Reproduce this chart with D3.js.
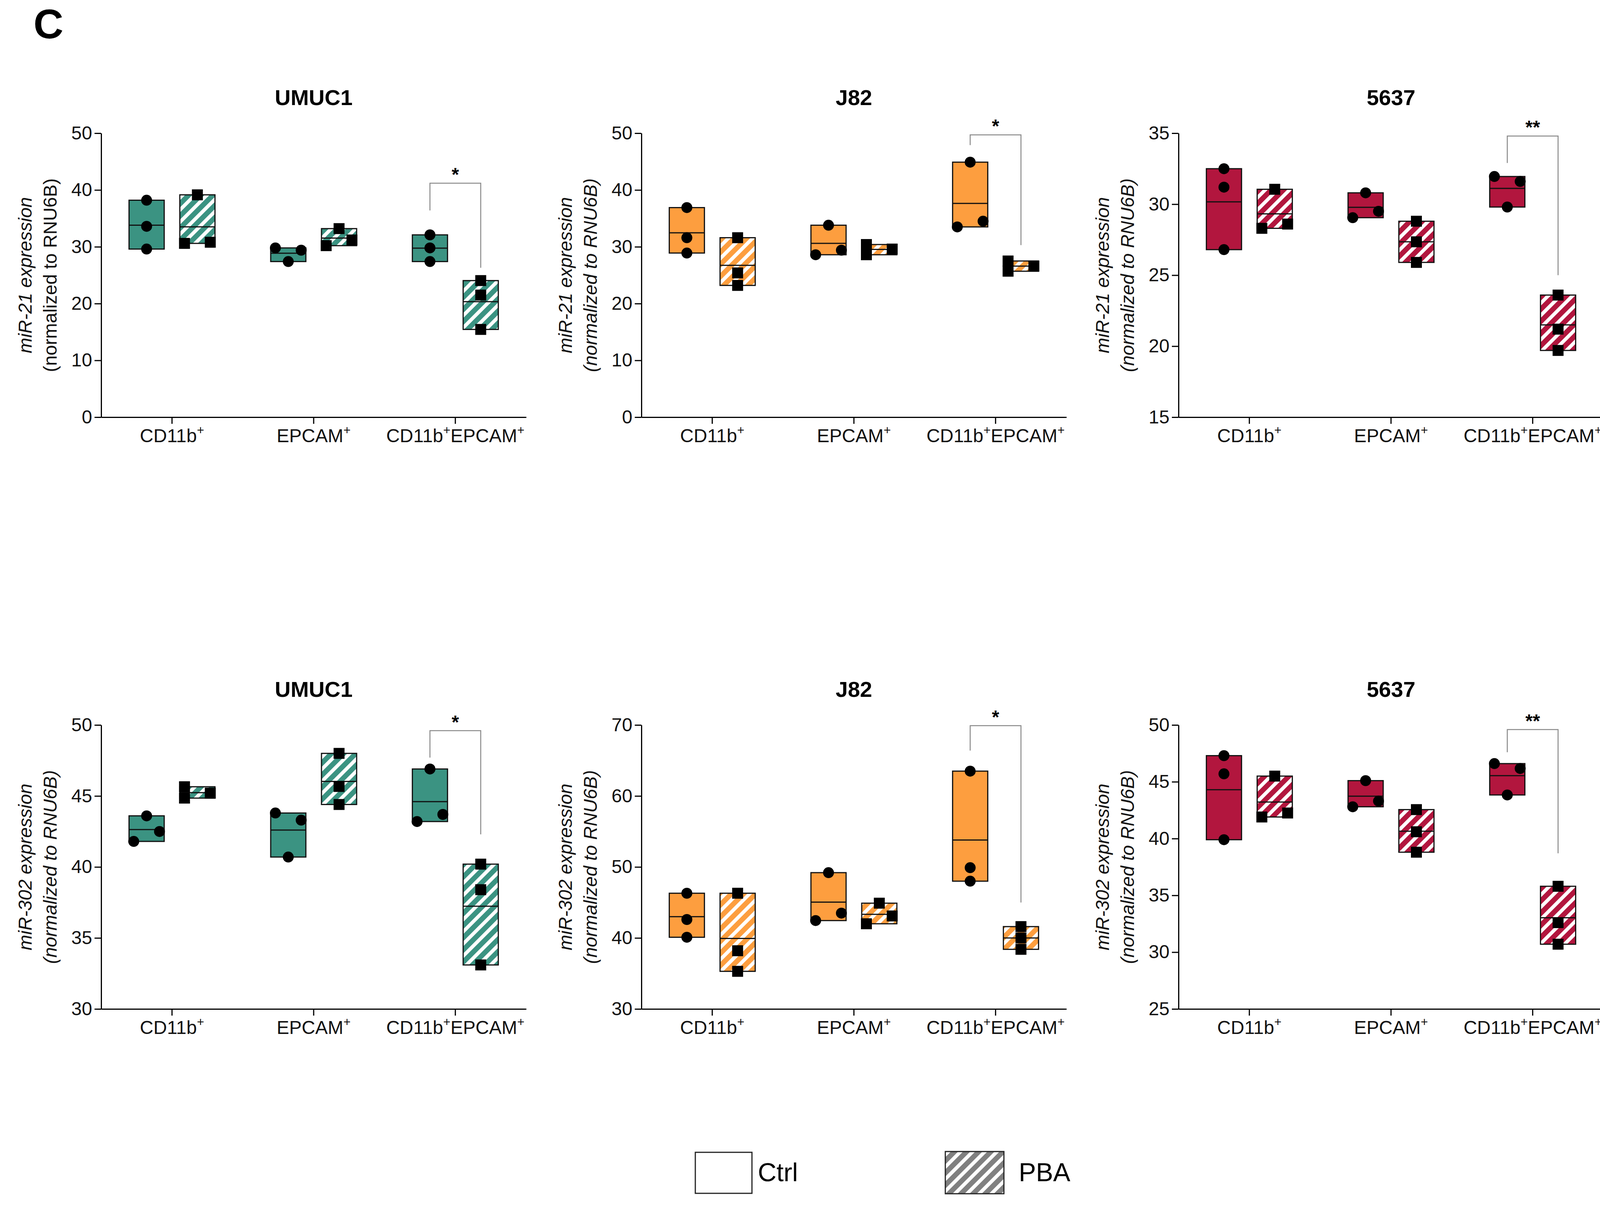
<!DOCTYPE html>
<html>
<head>
<meta charset="utf-8">
<script src="https://cdn.jsdelivr.net/npm/d3@7"></script>
<style>
  body { margin: 0; background: #fff; }
  svg { display: block; font-family: "Liberation Sans", Arial, sans-serif; }
</style>
</head>
<body>
<svg id="chart" width="4129" height="3090"></svg>
<script>
const cellLines = ["UMUC1", "J82", "5637"];
const lineColors = ["#3b9382", "#fd9e3f", "#b2163e"];
const populations = ["CD11b+", "EPCAM+", "CD11b+EPCAM+"];
const treatments = ["Ctrl", "PBA"];
const mirnas = ["miR-21", "miR-302"];

// replicates per population: [Ctrl, PBA], kept in table order
const umuc1Mir21 = [[[38.2, 33.6, 29.6], [39.15, 30.6, 30.8]],
                    [[29.8, 29.4, 27.4], [33.2, 30.2, 31.2]],
                    [[32.1, 29.8, 27.4], [24.05, 21.5, 15.45]]];
const j82Mir21 = [[[36.9, 31.6, 28.9], [31.6, 25.4, 23.2]],
                  [[33.8, 28.6, 29.4], [30.4, 29.6, 28.6]],
                  [[44.9, 33.5, 34.5], [27.5, 26.6, 25.7]]];
const c5637Mir21 = [[[32.5, 31.2, 26.8], [31.05, 28.3, 28.6]],
                    [[30.8, 29.05, 29.5], [28.8, 27.35, 25.9]],
                    [[31.95, 31.6, 29.8], [23.6, 21.2, 19.7]]];
const umuc1Mir302 = [[[43.6, 41.8, 42.5], [45.65, 45.2, 44.85]],
                     [[43.8, 43.3, 40.7], [48.0, 45.67, 44.4]],
                     [[46.9, 43.2, 43.7], [40.2, 38.4, 33.1]]];
const j82Mir302 = [[[46.3, 42.6, 40.1], [46.3, 38.2, 35.3]],
                   [[49.2, 42.45, 43.5], [44.9, 42.0, 43.1]],
                   [[63.5, 49.9, 48.0], [41.6, 40.0, 38.4]]];
const c5637Mir302 = [[[47.3, 45.7, 39.9], [45.5, 41.9, 42.25]],
                     [[45.1, 42.8, 43.3], [42.55, 40.6, 38.8]],
                     [[46.6, 46.17, 43.84], [35.8, 32.6, 30.7]]];

const yDomains21 = [[0, 50], [0, 50], [15, 35]];
const yTicks21 = [[0, 10, 20, 30, 40, 50], [0, 10, 20, 30, 40, 50], [15, 20, 25, 30, 35]];
const yDomains302 = [[30, 50], [30, 70], [25, 50]];
const yTicks302 = [[30, 35, 40, 45, 50], [30, 40, 50, 60, 70], [25, 30, 35, 40, 45, 50]];

// significance bracket: [top, ctrl end, pba end] in data units
const sigLabels21 = ["*", "*", "**"];
const brackets21 = [[41.2, 36.4, 26.3], [49.7, 47.9, 30.3], [34.8, 32.9, 25.0]];
const sigLabels302 = ["*", "*", "**"];
const brackets302 = [[49.6, 47.7, 42.3], [69.9, 66.4, 45.0], [49.6, 47.6, 38.7]];
const normItalic21 = [false, true, true];
const normItalic302 = [true, true, true];

const svg = d3.select("#chart");
svg.append("rect").attr("width", 4129).attr("height", 3090).attr("fill", "#fff");
const defs = svg.append("defs");

function hatch(id, color) {
    const p = defs.append("pattern").attr("id", id)
        .attr("patternUnits", "userSpaceOnUse")
        .attr("width", 22).attr("height", 22)
        .attr("patternTransform", "rotate(45)");
    p.append("rect").attr("width", 22).attr("height", 22).attr("fill", "#fff");
    p.append("rect").attr("width", 13).attr("height", 22).attr("fill", color);
}
lineColors.forEach((c, i) => hatch("hatch" + i, c));
hatch("hatchLegend", "#808080");

const panelX = [259, 1642, 3017];
const rowTop = [341, 1856];
const plotW = 1088, plotH = 727;
const boxW = 90, markerSize = 28, colStep = 33;

// spread points that would overlap vertically into side columns
function spread(vals, y) {
    const idx = d3.range(vals.length).sort((a, b) => vals[a] - vals[b]);
    const off = vals.map(() => 0);
    const clusters = [];
    let cur = [idx[0]];
    for (let k = 1; k < idx.length; k++) {
        if (Math.abs(y(vals[idx[k]]) - y(vals[idx[k - 1]])) < markerSize) cur.push(idx[k]);
        else { clusters.push(cur); cur = [idx[k]]; }
    }
    clusters.push(cur);
    clusters.forEach(c => {
        if (c.length < 2) return;
        c.slice().sort((a, b) => a - b).forEach((i, j) => { off[i] = (j % 2 ? 1 : -1) * colStep; });
    });
    return off;
}

function addCategoryLabel(sel, label) {
    const parts = label.split("+");
    parts.forEach((p, i) => {
        if (i === parts.length - 1) {
            if (p) sel.append("tspan").attr("dy", i ? 20 : 0).text(p);
            return;
        }
        sel.append("tspan").attr("dy", i ? 20 : 0).text(p);
        sel.append("tspan").attr("dy", -20).attr("font-size", 32).text("+");
    });
}

function drawPanel(col, row, data, domain, ticks, mirna, sig, bracket, normItalic) {
    const g = svg.append("g").attr("transform", `translate(${panelX[col]},${rowTop[row]})`);
    const x = d3.scaleBand().domain(populations).range([0, plotW]);
    const xt = d3.scalePoint().domain(treatments).range([-65, 65]);
    const y = d3.scaleLinear().domain(domain).range([plotH, 0]);
    const color = lineColors[col];

    // title
    g.append("text").attr("x", plotW / 2).attr("y", -72)
        .attr("text-anchor", "middle").attr("font-size", 56).attr("font-weight", "bold")
        .text(cellLines[col]);

    // y axis
    const ya = g.append("g")
        .call(d3.axisLeft(y).tickValues(ticks).tickSize(17).tickSizeOuter(0).tickPadding(6))
        .attr("font-family", "Liberation Sans, Arial, sans-serif").attr("font-size", 48);
    ya.select(".domain").attr("stroke-width", 3);
    ya.selectAll(".tick line").attr("stroke-width", 3);
    ya.selectAll(".tick text").attr("fill", "#111");

    // x axis
    const xa = g.append("g").attr("transform", `translate(0,${plotH})`)
        .call(d3.axisBottom(x).tickSize(17).tickSizeOuter(0).tickFormat(""));
    xa.select(".domain").attr("stroke-width", 3);
    xa.selectAll(".tick line").attr("stroke-width", 3);
    populations.forEach(p => {
        const t = g.append("text").attr("x", x(p) + x.bandwidth() / 2).attr("y", plotH + 64)
            .attr("text-anchor", "middle").attr("font-size", 48).attr("fill", "#111");
        addCategoryLabel(t, p);
    });

    // y label
    g.append("text").attr("transform", `translate(-178,${plotH / 2}) rotate(-90)`)
        .attr("text-anchor", "middle").attr("font-size", 48).attr("font-style", "italic")
        .attr("fill", "#111").text(mirna + " expression");
    g.append("text").attr("transform", `translate(-114,${plotH / 2}) rotate(-90)`)
        .attr("text-anchor", "middle").attr("font-size", 48)
        .attr("font-style", normItalic ? "italic" : "normal")
        .attr("fill", "#111").text("(normalized to RNU6B)");

    // floating bars (min to max, line at mean) with replicates
    populations.forEach((p, pi) => {
        treatments.forEach((t, ti) => {
            const vals = data[pi][ti];
            const cx = x(p) + x.bandwidth() / 2 + xt(t);
            const lo = d3.min(vals), hi = d3.max(vals), mean = d3.mean(vals);
            g.append("rect").attr("x", cx - boxW / 2).attr("y", y(hi))
                .attr("width", boxW).attr("height", y(lo) - y(hi))
                .attr("fill", ti === 0 ? color : `url(#hatch${col})`)
                .attr("stroke", "#111").attr("stroke-width", 3);
            g.append("line").attr("x1", cx - boxW / 2).attr("x2", cx + boxW / 2)
                .attr("y1", y(mean)).attr("y2", y(mean))
                .attr("stroke", "#111").attr("stroke-width", 3);
            const off = spread(vals, y);
            vals.forEach((v, i) => {
                if (ti === 0) {
                    g.append("circle").attr("cx", cx + off[i]).attr("cy", y(v))
                        .attr("r", markerSize / 2).attr("fill", "#000");
                } else {
                    g.append("rect").attr("x", cx + off[i] - markerSize / 2)
                        .attr("y", y(v) - markerSize / 2)
                        .attr("width", markerSize).attr("height", markerSize).attr("fill", "#000");
                }
            });
        });
    });

    // significance bracket
    const last = populations[2];
    const lx = x(last) + x.bandwidth() / 2 + xt("Ctrl");
    const rx = x(last) + x.bandwidth() / 2 + xt("PBA");
    g.append("path")
        .attr("d", `M${lx},${y(bracket[1])}V${y(bracket[0])}H${rx}V${y(bracket[2])}`)
        .attr("fill", "none").attr("stroke", "#8a8a8a").attr("stroke-width", 2.5);
    g.append("text").attr("x", (lx + rx) / 2).attr("y", y(bracket[0]) - 6)
        .attr("text-anchor", "middle").attr("font-size", 48).attr("font-weight", "bold")
        .text(sig);
}

const mir21Data = [umuc1Mir21, j82Mir21, c5637Mir21];
const mir302Data = [umuc1Mir302, j82Mir302, c5637Mir302];
for (let c = 0; c < 3; c++) {
    drawPanel(c, 0, mir21Data[c], yDomains21[c], yTicks21[c], mirnas[0], sigLabels21[c], brackets21[c], normItalic21[c]);
    drawPanel(c, 1, mir302Data[c], yDomains302[c], yTicks302[c], mirnas[1], sigLabels302[c], brackets302[c], normItalic302[c]);
}

// panel letter
svg.append("text").attr("x", 124).attr("y", 98).attr("text-anchor", "middle")
    .attr("font-size", 106).attr("font-weight", "bold").text("C");

// legend
const legend = svg.append("g");
legend.append("rect").attr("x", 1780).attr("y", 2950).attr("width", 145).attr("height", 105)
    .attr("fill", "#fff").attr("stroke", "#222").attr("stroke-width", 3);
legend.append("text").attr("x", 1940).attr("y", 3024).attr("font-size", 66).text(treatments[0]);
legend.append("rect").attr("x", 2420).attr("y", 2948).attr("width", 150).attr("height", 108)
    .attr("fill", "url(#hatchLegend)").attr("stroke", "#222").attr("stroke-width", 3);
legend.append("text").attr("x", 2608).attr("y", 3024).attr("font-size", 66).text(treatments[1]);
</script>
</body>
</html>
